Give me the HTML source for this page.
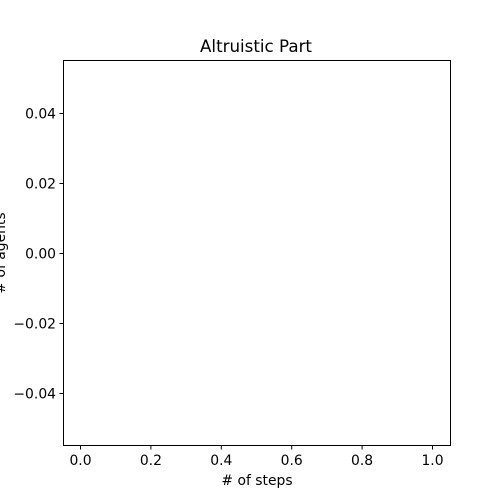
<!DOCTYPE html>
<html><head><style>
html,body{margin:0;padding:0;background:#fff;overflow:hidden;width:500px;height:500px;}
svg{display:block;}
svg text{font-family:"DejaVu Sans","Liberation Sans",sans-serif;fill:#000;}
</style></head><body>
<svg width="500" height="500">
<rect width="500" height="500" fill="#fff"/>
<text x="256" y="52" font-size="16.7" text-anchor="middle">Altruistic Part</text>
<rect x="63.5" y="60.5" width="387" height="385" fill="none" stroke="#000" stroke-width="1"/>
<g id="xt"></g>
<g id="yt"></g>
<text x="257" y="485" font-size="13.9" text-anchor="middle"># of steps</text>
<text transform="translate(5,253) rotate(-90)" font-size="13.9" text-anchor="middle"># of agents</text>
</svg>
<script>
const xTicks=[0,0.2,0.4,0.6,0.8,1.0];
const xLabels=["0.0","0.2","0.4","0.6","0.8","1.0"];
const yTicks=[0.04,0.02,0,-0.02,-0.04];
const yLabels=["0.04","0.02","0.00","\u22120.02","\u22120.04"];
const seriesX=[];
const seriesY=[];
const xs=v=>80.5+v*352;
const ys=v=>253.5-v*3500;
const NS="http://www.w3.org/2000/svg";
const xg=document.getElementById('xt'),yg=document.getElementById('yt');
xTicks.forEach((t,i)=>{
 const l=document.createElementNS(NS,'line');
 
 
 l.setAttribute('x1',xs(t));l.setAttribute('x2',xs(t));l.setAttribute('y1',445.5);l.setAttribute('y2',449.5);l.setAttribute('stroke','#000');
 xg.appendChild(l);
 const tx=document.createElementNS(NS,'text');
 
 
 tx.setAttribute('x',xs(t));tx.setAttribute('y',465);tx.setAttribute('font-size','13.9');tx.setAttribute('text-anchor','middle');
 tx.textContent=xLabels[i];xg.appendChild(tx);
});
yTicks.forEach((t,i)=>{
 const l=document.createElementNS(NS,'line');
 
 
 l.setAttribute('x1',59.5);l.setAttribute('x2',63.5);l.setAttribute('y1',ys(t));l.setAttribute('y2',ys(t));l.setAttribute('stroke','#000');
 yg.appendChild(l);
 const tx=document.createElementNS(NS,'text');
 
 
 tx.setAttribute('x',56);tx.setAttribute('y',ys(t)+5);tx.setAttribute('font-size','13.9');tx.setAttribute('text-anchor','end');
 tx.textContent=yLabels[i];yg.appendChild(tx);
});
</script>
</body></html>
